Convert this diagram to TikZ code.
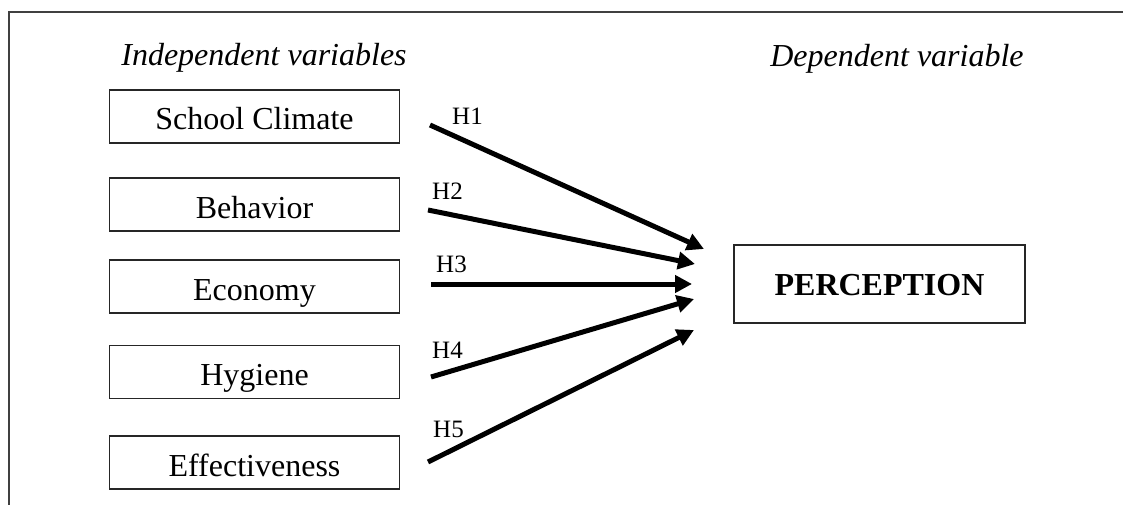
\documentclass[tikz,border=0pt]{standalone}
\usepackage{fontspec}
\setmainfont{Liberation Serif}
\usetikzlibrary{arrows.meta}
\begin{document}
\begin{tikzpicture}[x=1pt,y=-1pt,
  varbox/.style={draw=black!85,line width=1.4pt,minimum width=290pt,minimum height=53pt,
    inner sep=0pt,text height=27pt,text depth=0pt,font=\fontsize{32}{38}\selectfont},
  depbox/.style={draw=black!85,line width=1.4pt,minimum width=291pt,minimum height=78pt,
    inner sep=0pt,text height=22pt,text depth=0pt,font=\fontsize{32}{38}\selectfont\bfseries},
  heading/.style={anchor=base,font=\fontsize{32}{38}\selectfont\itshape},
  hlabel/.style={anchor=base west,inner sep=0pt,font=\fontsize{25}{29}\selectfont},
  hyparrow/.style={line width=5pt,-{Triangle[length=17pt,width=17pt]}},
  frame/.style={draw=black!75,line width=1.4pt}]
\useasboundingbox (0,0) rectangle (1123,505);
\draw[frame] (9,505) -- (9,12) -- (1123,12);
\node[heading] (hi) at (264,66) {Independent variables};
\node[heading] (hd) at (897,67) {Dependent variable};
\node[varbox] (b1) at (254.5,116.5) {School Climate};
\node[varbox] (b2) at (254.5,204.5) {Behavior};
\node[varbox] (b3) at (254.5,286.5) {Economy};
\node[varbox] (b4) at (254.5,372) {Hygiene};
\node[varbox] (b5) at (254.5,462.5) {Effectiveness};
\node[depbox] (p) at (879.5,284) {PERCEPTION};
\coordinate (s1) at (430,125);
\coordinate (s2) at (428,210);
\coordinate (s3) at (431,284);
\coordinate (s4) at (431,377);
\coordinate (s5) at (428,462);
\coordinate (e1) at (704,249);
\coordinate (e2) at (695,264);
\coordinate (e3) at (692,284);
\coordinate (e4) at (694,299);
\coordinate (e5) at (694,330);
\draw[hyparrow] (s1) -- (e1);
\draw[hyparrow] (s2) -- (e2);
\draw[hyparrow] (s3) -- (e3);
\draw[hyparrow] (s4) -- (e4);
\draw[hyparrow] (s5) -- (e5);
\node[hlabel] (h1) at (452,125) {H1};
\node[hlabel] (h2) at (432,200) {H2};
\node[hlabel] (h3) at (436,272) {H3};
\node[hlabel] (h4) at (432,358) {H4};
\node[hlabel] (h5) at (433,437) {H5};
\end{tikzpicture}
\end{document}
